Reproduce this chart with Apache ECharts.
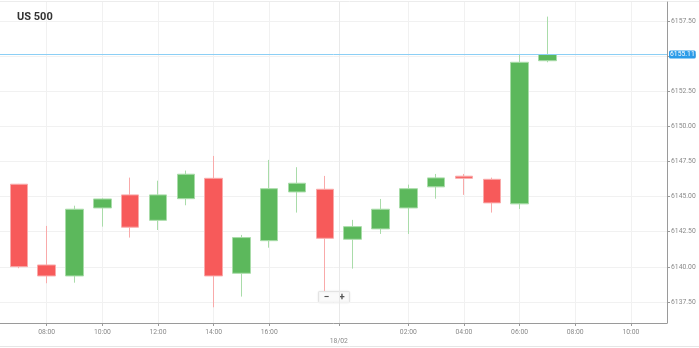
<!DOCTYPE html>
<html><head><meta charset="utf-8">
<script src="https://cdn.jsdelivr.net/npm/echarts@6/dist/echarts.min.js"></script>
<style>html,body{margin:0;padding:0;background:#fff}#c{width:699px;height:348px}</style>
</head><body><div id="c"></div>
<script>
const title = 'US 500';
const times = ['17/02 06:00','17/02 07:00','17/02 08:00','17/02 09:00','17/02 10:00','17/02 11:00','17/02 12:00',
  '17/02 13:00','17/02 14:00','17/02 15:00','17/02 16:00','17/02 17:00','17/02 23:00','18/02 00:00','18/02 01:00',
  '18/02 02:00','18/02 03:00','18/02 04:00','18/02 05:00','18/02 06:00','18/02 07:00'];
const openV  = [6145.35,6145.88,6140.13,6139.35,6144.19,6145.12,6143.31,6144.85,6146.30,6139.54,6141.86,6145.33,6145.52,6141.96,6142.70,6144.19,6145.69,6146.45,6146.23,6144.48,6154.67];
const closeV = [6145.76,6140.01,6139.35,6144.10,6144.83,6142.82,6145.12,6146.59,6139.35,6142.08,6145.56,6145.95,6142.03,6142.86,6144.10,6145.56,6146.33,6146.30,6144.55,6154.56,6155.11];
const lowV   = [6145.00,6139.90,6138.83,6138.87,6142.86,6142.08,6142.62,6144.38,6137.12,6137.88,6141.36,6143.86,6138.28,6139.87,6142.34,6142.34,6144.85,6145.12,6143.86,6144.12,6154.56];
const highV  = [6146.00,6145.90,6142.91,6144.35,6144.88,6146.35,6146.13,6146.85,6147.89,6142.27,6147.61,6147.09,6146.47,6143.34,6144.83,6145.85,6146.61,6146.61,6146.35,6155.15,6157.81];
const lastPrice = 6155.11;
const xTickPos = [2,4,6,8,10,12.5,15,17,19,21,23];
const xTickLabels = ['08:00','10:00','12:00','14:00','16:00','18/02','02:00','04:00','06:00','08:00','10:00'];
const yTicks = [6137.5,6140,6142.5,6145,6147.5,6150,6152.5,6155,6157.5];

const data = times.map((t,i)=>[i, openV[i], closeV[i], lowV[i], highV[i]]);
const chart = echarts.init(document.getElementById('c'), null, {renderer:'canvas'});
const lblFont = 'Roboto, "Liberation Sans", sans-serif';
chart.setOption({
  animation:false,
  backgroundColor:'#fff',
  title:{text:title,left:12,top:7,textStyle:{fontSize:11,fontWeight:'bold',color:'#333',fontFamily:lblFont}},
  grid:{left:0,right:32,top:2,bottom:25},
  xAxis:{type:'value',min:0.32,max:24.30,
    axisLine:{show:true,onZero:false,lineStyle:{color:'#9a9a9a',width:1}},
    axisTick:{show:true,length:3,customValues:xTickPos,lineStyle:{color:'#9a9a9a'}},
    axisLabel:{customValues:xTickPos,margin:5,fontSize:6.8,color:'#8a8a8a',fontFamily:lblFont,lineHeight:9,
      formatter:(v)=>{const i=xTickPos.indexOf(v);const s=i>=0?xTickLabels[i]:'';return s.indexOf('/')>0?'\n'+s:s;}},
    splitLine:{show:true,lineStyle:{color:['#f1f1f1','#f1f1f1','#f1f1f1','#f1f1f1','#f1f1f1','#e9e9e9','#f1f1f1','#f1f1f1','#f1f1f1','#f1f1f1','#f1f1f1'],width:1}}
  },
  yAxis:{type:'value',position:'right',min:6136.0,max:6158.85,scale:true,
    axisLine:{show:true,lineStyle:{color:'#9a9a9a',width:1}},
    axisTick:{show:true,length:3,customValues:yTicks,lineStyle:{color:'#9a9a9a'}},
    axisLabel:{customValues:yTicks,margin:4,fontSize:6.8,color:'#8a8a8a',fontFamily:lblFont,formatter:(v)=>v.toFixed(2)},
    splitLine:{show:true,lineStyle:{color:'#f1f1f1',width:1}}
  },
  series:[{
    type:'candlestick',
    data:data,
    encode:{x:0,y:[1,2,3,4]},
    barWidth:18,
    clip:true,
    itemStyle:{color:'#5cb85c',color0:'#f75a5a',borderColor:'#a9dca9',borderColor0:'#f9aaaa',borderWidth:1},
    emphasis:{disabled:true},
    markLine:{silent:true,symbol:'none',animation:false,
      data:[{yAxis:lastPrice}],
      lineStyle:{color:'#8ccff5',width:1,type:'solid'},
      label:{position:'end',distance:2,formatter:lastPrice.toFixed(2),color:'#fff',backgroundColor:'#2b9be8',
        fontSize:6.8,fontFamily:lblFont,padding:[1,1,0,1],borderRadius:1.5}
    }
  }],
  graphic:[
    {type:'line',shape:{x1:0,y1:1.5,x2:699,y2:1.5},style:{stroke:'#ececec',lineWidth:1},silent:true},
    {type:'line',shape:{x1:0,y1:346.5,x2:699,y2:346.5},style:{stroke:'#e6e6e6',lineWidth:1},silent:true},
    {type:'group',left:318,top:291,children:[
      {type:'rect',shape:{x:0,y:0,width:31,height:11,r:1},style:{fill:'#fafafa',stroke:'#e3e3e3',lineWidth:1,shadowBlur:2,shadowColor:'rgba(0,0,0,0.08)'}},
      {type:'text',x:8,y:5.5,style:{text:'−',fontSize:10,fontWeight:'bold',fill:'#555',align:'center',verticalAlign:'middle',fontFamily:lblFont}},
      {type:'text',x:23.5,y:5.5,style:{text:'+',fontSize:10,fontWeight:'bold',fill:'#555',align:'center',verticalAlign:'middle',fontFamily:lblFont}}
    ]}
  ]
});
</script></body></html>
